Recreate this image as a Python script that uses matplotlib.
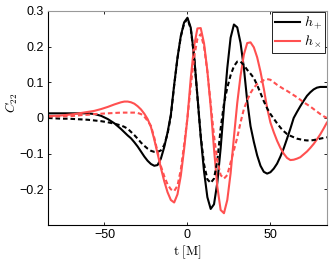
import numpy as np
import matplotlib
matplotlib.use('Agg')
import matplotlib.pyplot as plt

plt.rcParams['font.family'] = ['Liberation Sans', 'DejaVu Sans']
plt.rcParams['mathtext.fontset'] = 'cm'

# time samples [M]
t = [-84, -80, -76, -72, -68, -64, -60, -56, -52, -48, -44, -40,
     -38, -36, -34, -32, -30, -28, -26, -24, -22, -20,
     -18, -16, -14, -12, -10, -8, -6, -4, -2, 0,
     2, 4, 6, 8, 10, 12, 14, 16, 18, 20,
     22, 24, 26, 28, 30, 32, 34, 36, 38, 40,
     42, 44, 46, 48, 50, 52, 54, 56, 58, 60,
     62, 64, 66, 68, 70, 72, 74, 76, 78, 80,
     82, 84]

# h_plus, solid
hp = [0.013, 0.013, 0.013, 0.013, 0.013, 0.013, 0.013, 0.011, 0.006, -0.003, -0.015, -0.031,
      -0.040, -0.049, -0.057, -0.068, -0.080, -0.094, -0.108, -0.120, -0.129, -0.134,
      -0.132, -0.114, -0.082, -0.041, 0.009, 0.093, 0.169, 0.230, 0.268, 0.281,
      0.253, 0.175, 0.062, -0.053, -0.150, -0.222, -0.255, -0.242, -0.181, -0.085,
      0.030, 0.140, 0.225, 0.262, 0.254, 0.210, 0.140, 0.048, -0.023, -0.067,
      -0.105, -0.134, -0.151, -0.156, -0.152, -0.142, -0.128, -0.108, -0.085, -0.058,
      -0.030, 0.000, 0.017, 0.033, 0.048, 0.062, 0.072, 0.080, 0.085, 0.087,
      0.087, 0.087]

# h_plus, dashed
hp2 = [0.000, -0.001, -0.002, -0.002, -0.003, -0.004, -0.005, -0.007, -0.009, -0.012, -0.016, -0.021,
       -0.025, -0.030, -0.039, -0.048, -0.058, -0.069, -0.078, -0.086, -0.092, -0.095,
       -0.095, -0.091, -0.076, -0.045, 0.006, 0.091, 0.167, 0.228, 0.265, 0.278,
       0.250, 0.172, 0.060, -0.050, -0.130, -0.172, -0.182, -0.170, -0.120, -0.030,
       0.040, 0.085, 0.120, 0.145, 0.158, 0.158, 0.148, 0.135, 0.124, 0.112,
       0.092, 0.070, 0.047, 0.027, 0.011, -0.002, -0.015, -0.027, -0.037, -0.045,
       -0.050, -0.054, -0.058, -0.060, -0.062, -0.063, -0.063, -0.062, -0.060, -0.058,
       -0.056, -0.054]

# h_cross, solid
hx = [0.005, 0.006, 0.007, 0.009, 0.011, 0.014, 0.017, 0.020, 0.025, 0.031, 0.038, 0.044,
      0.046, 0.046, 0.044, 0.040, 0.033, 0.024, 0.012, -0.003, -0.025, -0.060,
      -0.100, -0.140, -0.177, -0.208, -0.230, -0.237, -0.214, -0.162, -0.087, 0.000,
      0.112, 0.201, 0.251, 0.252, 0.209, 0.132, 0.032, -0.087, -0.193, -0.258,
      -0.267, -0.230, -0.155, -0.054, 0.042, 0.119, 0.178, 0.210, 0.212, 0.198,
      0.170, 0.130, 0.082, 0.028, -0.013, -0.040, -0.064, -0.084, -0.100, -0.112,
      -0.118, -0.117, -0.114, -0.110, -0.102, -0.094, -0.084, -0.073, -0.060, -0.046,
      -0.030, -0.013]

# h_cross, dashed
hx2 = [0.004, 0.004, 0.005, 0.005, 0.006, 0.008, 0.009, 0.011, 0.012, 0.013, 0.014, 0.015,
       0.015, 0.015, 0.015, 0.015, 0.014, 0.011, 0.004, -0.008, -0.022, -0.055,
       -0.095, -0.135, -0.163, -0.186, -0.200, -0.205, -0.190, -0.145, -0.075, 0.000,
       0.090, 0.170, 0.222, 0.235, 0.200, 0.130, 0.040, -0.050, -0.120, -0.160,
       -0.170, -0.160, -0.125, -0.090, -0.055, -0.012, 0.025, 0.050, 0.070, 0.085,
       0.095, 0.100, 0.106, 0.109, 0.107, 0.100, 0.093, 0.087, 0.081, 0.076,
       0.070, 0.064, 0.058, 0.051, 0.044, 0.038, 0.032, 0.025, 0.018, 0.011,
       0.005, 0.000]

xticks = [-50, 0, 50]
yticks = [0.3, 0.2, 0.1, 0, -0.1, -0.2]
ytick_labels = ['0.3', '0.2', '0.1', '0', '\u22120.1', '\u22120.2']

red = '#ff5050'
dash = (0, (2.2, 1.4))

fig = plt.figure(figsize=(3.32, 2.61), dpi=100)
ax = fig.add_axes([0.1446, 0.138, 0.840, 0.820])

ax.plot(t, hp, color='black', lw=1.5, label='$h_+$')
ax.plot(t, hx, color=red, lw=1.5, label=r'$h_\times$')
ax.plot(t, hp2, color='black', lw=1.5, ls=dash)
ax.plot(t, hx2, color=red, lw=1.5, ls=dash)

ax.set_xlim(-84, 84)
ax.set_ylim(-0.3, 0.3)
ax.set_xticks(xticks)
ax.set_yticks(yticks)
ax.set_yticklabels(ytick_labels)
ax.tick_params(direction='in', length=2.5, width=0.6, labelsize=9,
               top=True, right=True, pad=3)
for s in ['top', 'right']:
    ax.spines[s].set_color('#999999')
for s in ['left', 'bottom']:
    ax.spines[s].set_color('black')
for s in ax.spines.values():
    s.set_linewidth(0.8)

ax.set_xlabel(r'$\mathrm{t\ [M]}$', fontsize=9.5)
ax.xaxis.set_label_coords(0.5, -0.085)
ax.set_ylabel(r'$C_{22}$', fontsize=9.5)
ax.yaxis.set_label_coords(-0.1, 0.57)

leg = ax.legend(loc='upper right', fontsize=10, fancybox=False, framealpha=1,
                edgecolor='black', borderaxespad=0.1, borderpad=0.2,
                labelspacing=0.1, handlelength=1.8, handletextpad=0.3)
leg.get_frame().set_linewidth(0.6)

fig.savefig('out.png', dpi=100)
